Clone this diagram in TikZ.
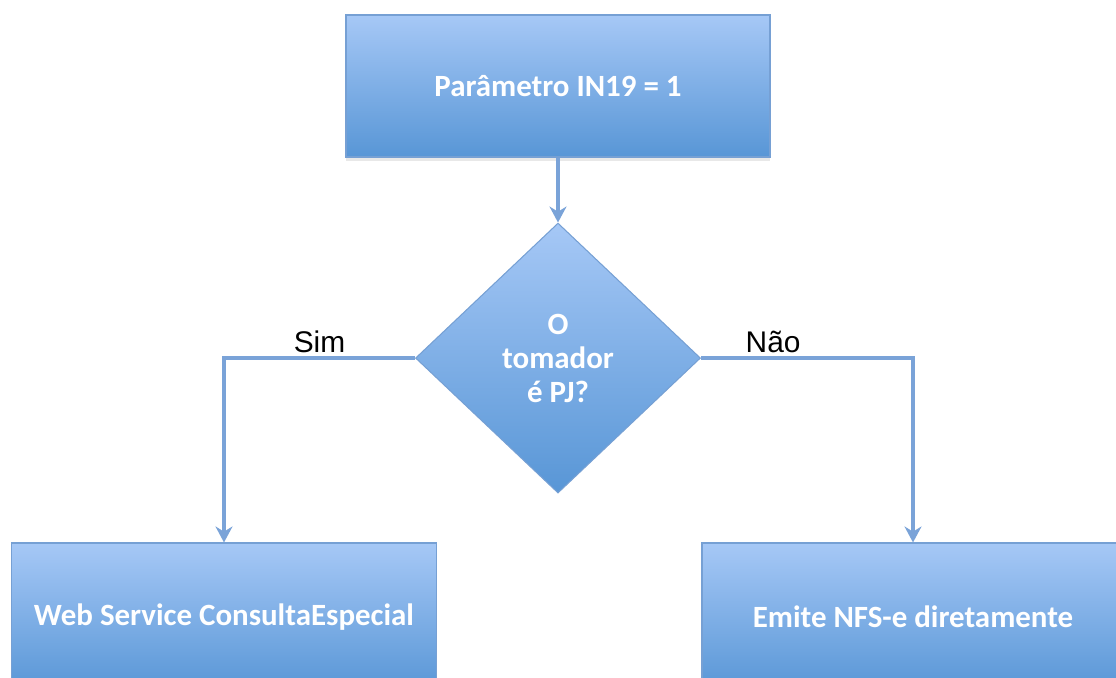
\documentclass[tikz,border=0pt]{standalone}
\usepackage{fontspec}
\setmainfont{Carlito}
\newfontfamily\rotulofont{Liberation Sans}
\usepackage{tikz}
\usetikzlibrary{shapes,arrows.meta,positioning,calc,shadows}

\definecolor{azulclaro}{RGB}{166,200,246}
\definecolor{azulescuro}{RGB}{88,150,214}
\definecolor{azulborda}{RGB}{118,160,212}
\definecolor{azullinha}{RGB}{122,163,216}

\begin{document}
\begin{tikzpicture}[
    caixa/.style={draw=azulborda, line width=0.6pt, rectangle, top color=azulclaro, bottom color=azulescuro,
        text=white, font=\fontsize{17.6}{19.3}\selectfont\bfseries, align=center,
        drop shadow={opacity=0.18, shadow xshift=0pt, shadow yshift=-2pt}},
    losango/.style={draw=azulborda, line width=0.6pt, diamond, inner sep=0pt, top color=azulclaro, bottom color=azulescuro,
        text=white, font=\fontsize{17.6}{19.3}\selectfont\bfseries, align=center},
    seta/.style={draw=azullinha, line width=2.2pt, -{Stealth[length=3.2mm, width=3.4mm]}},
    rotulo/.style={text=black, font=\rotulofont\fontsize{17}{20}\selectfont, inner sep=2pt}
]
                \clip (0,0) rectangle (22.32,-13.54);
                \node[caixa, minimum width=8.48cm, minimum height=2.84cm] (param) at (11.16,-1.72) {Parâmetro IN19 = 1};
                \node[losango, minimum width=5.7cm, minimum height=5.4cm, below=1.3cm of param] (tomador) {O\\tomador\\é PJ?};
                \node[caixa, minimum width=8.5cm, minimum height=2.96cm] (consulta) at (4.48,-12.34) {Web Service ConsultaEspecial};
                \node[caixa, minimum width=8.44cm, minimum height=2.96cm] (emite) at (18.26,-12.34) {Emite NFS-e diretamente};
                \draw[seta] (param) -- (tomador);
                \draw[seta] (tomador.west) -| node[rotulo, pos=0.25, above] {Sim} (consulta.north);
                \draw[seta] (tomador.east) -| node[rotulo, pos=0.17, above] {Não} (emite.north);
            \end{tikzpicture}
\end{document}
